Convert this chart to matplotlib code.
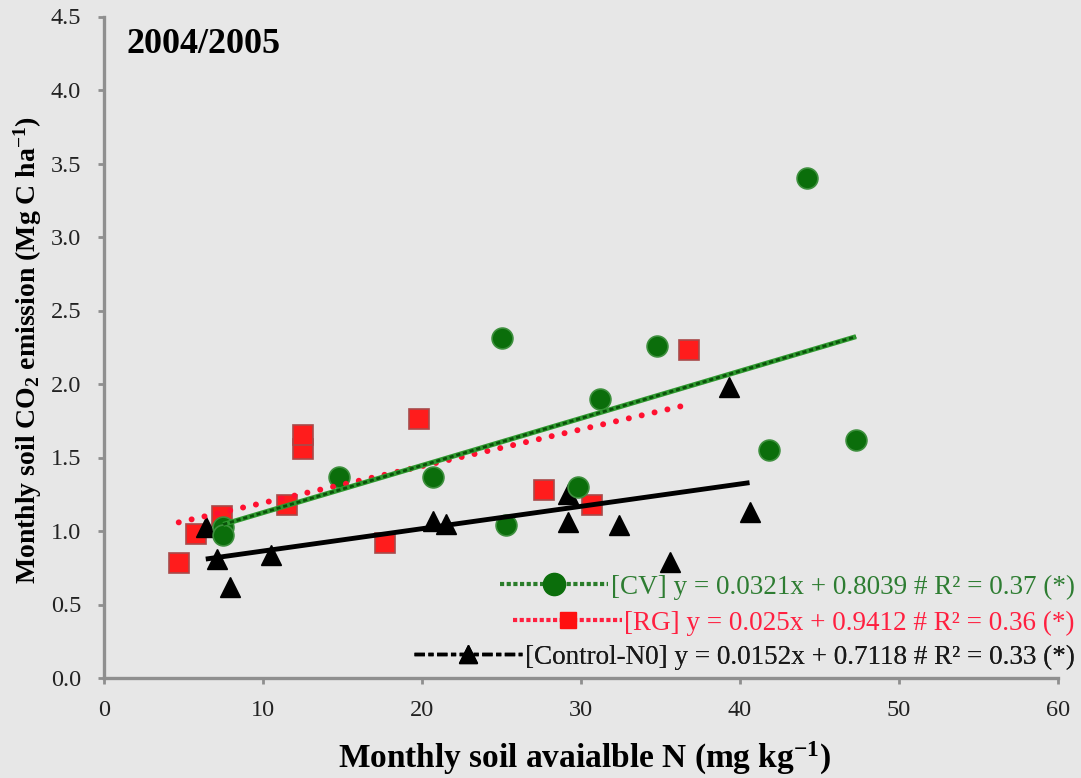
import matplotlib
matplotlib.use('Agg')
import matplotlib.pyplot as plt
import numpy as np
from matplotlib.lines import Line2D

plt.rcParams['font.family'] = 'Liberation Serif'
plt.rcParams['mathtext.fontset'] = 'custom'
plt.rcParams['mathtext.rm'] = 'Liberation Serif:bold'
plt.rcParams['mathtext.default'] = 'regular'

# Monatswerte: verfuegbarer N (mg/kg) gegen CO2-Emission (Mg C/ha)
x_cv = np.array([7.5, 7.5, 14.8, 20.7, 25.0, 25.3, 29.8, 31.2, 34.8, 41.8, 44.2, 47.3])
y_cv = np.array([1.03, 0.97, 1.37, 1.37, 2.31, 1.04, 1.30, 1.90, 2.26, 1.55, 3.40, 1.62])

x_rg = np.array([4.7, 5.8, 7.4, 11.5, 12.5, 12.5, 17.7, 19.8, 27.7, 30.7, 36.8])
y_rg = np.array([0.78, 0.98, 1.10, 1.18, 1.56, 1.65, 0.92, 1.76, 1.28, 1.18, 2.23])

x_ct = np.array([6.4, 7.1, 7.9, 10.5, 20.7, 21.5, 29.2, 29.2, 32.4, 35.6, 39.3, 40.6])
y_ct = np.array([1.03, 0.81, 0.62, 0.84, 1.07, 1.05, 1.25, 1.06, 1.04, 0.79, 1.98, 1.13])

# Regressionsgeraden (Steigung, Achsenabschnitt, R^2)
fit_cv = (0.0321, 0.8039, 0.37)
fit_rg = (0.025, 0.9412, 0.36)
fit_ct = (0.0152, 0.7118, 0.33)

bg = '#e7e7e7'
green = '#0b6e0b'
red = '#ff1c1c'

fig = plt.figure(figsize=(10.81, 7.78), dpi=100, facecolor=bg)
ax = fig.add_axes([104/1081, 1-678/778, 954/1081, (678-16.5)/778])
ax.set_facecolor(bg)

ax.plot(x_rg, y_rg, 's', ms=15, mfc=red, mec='#a84a4a', mew=1.2, zorder=2)
ax.plot(x_ct, y_ct, '^', ms=15, mfc='black', mec='black', zorder=3)
ax.plot(x_cv, y_cv, 'o', ms=15, mfc=green, mec='#3d8f3d', mew=1.2, zorder=4)

def gerade(x, fit):
    xx = np.array([x.min(), x.max()])
    return xx, fit[0]*xx + fit[1]

xx, yy = gerade(x_rg, fit_rg)
ax.plot(xx, yy, color='#ff1030', lw=4.3, ls=(0, (0.01, 2.2)), dash_capstyle='round', zorder=5)
xx, yy = gerade(x_ct, fit_ct)
ax.plot(xx, yy, color='black', lw=3.5, solid_capstyle='butt', zorder=5)
xx, yy = gerade(x_cv, fit_cv)
ax.plot(xx, yy, color='#2f9a2f', lw=3.6, solid_capstyle='butt', zorder=6)
ax.plot(xx, yy, color='#0a520a', lw=2.0, ls=(0, (1.5, 1.0)), zorder=6)

ax.set_xlim(0, 60)
ax.set_ylim(0, 4.5)
ax.set_xticks(np.arange(0, 61, 10))
ax.set_yticks(np.arange(0, 4.51, 0.5))
ax.set_yticklabels(['%.1f' % v for v in np.arange(0, 4.51, 0.5)])
for s in ['top', 'right']:
    ax.spines[s].set_visible(False)
for s in ['left', 'bottom']:
    ax.spines[s].set_color('#8f8f8f')
    ax.spines[s].set_linewidth(2.4)
ax.tick_params(direction='out', length=4.5, width=2, color='#8f8f8f',
               labelsize=17.5, labelcolor='#222222')
ax.tick_params(axis='y', pad=12)
ax.tick_params(axis='x', pad=11)

fig.text(127/1081, 1-53/778, '2004/2005', fontsize=26, fontweight='bold', ha='left', va='baseline')
fig.text(585/1081, 1-758/778, 'Monthly soil avaialble N (mg kg$^{-1}$)',
         fontsize=24, fontweight='bold', ha='center', va='center')
fig.text(28/1081, 1-350/778, 'Monthly soil CO$_{2}$ emission (Mg C ha$^{-1}$)',
         fontsize=20, fontweight='bold', ha='center', va='center', rotation=90)

# Legende: drei Einzeleintraege, rechtsbuendig
eintraege = [
    (Line2D([], [], color='#2a7d2a', lw=3, ls=(0, (1, 0.6)), marker='o', ms=16,
            mfc=green, mec=green),
     '[CV] y = %.4fx + %.4f # R² = %.2f (*)' % fit_cv, '#2e7d32', 587),
    (Line2D([], [], color='#ff2040', lw=3, ls=(0, (1, 0.6)), marker='s', ms=11,
            mfc='#ff1010', mec='#ff1010'),
     '[RG] y = %.3fx + %.4f # R² = %.2f (*)' % fit_rg, '#ff2040', 623),
    (Line2D([], [], color='black', lw=2.5, ls=(0, (3, 1, 1.5, 1)), marker='^', ms=13,
            mfc='black', mec='black'),
     '[Control-N0] y = %.4fx + %.4f # R² = %.2f (*)' % fit_ct, '#1a1a1a', 657),
]
for h, txt, col, ypix in eintraege:
    leg = ax.legend([h], [txt], loc='center right', bbox_to_anchor=(1075/1081, 1-ypix/778),
                    bbox_transform=fig.transFigure, frameon=False, fontsize=19.5,
                    handlelength=4.0, handletextpad=0.1, borderpad=0, borderaxespad=0,
                    labelcolor=col)
    ax.add_artist(leg)

fig.savefig('out.png', dpi=100, facecolor=bg)
